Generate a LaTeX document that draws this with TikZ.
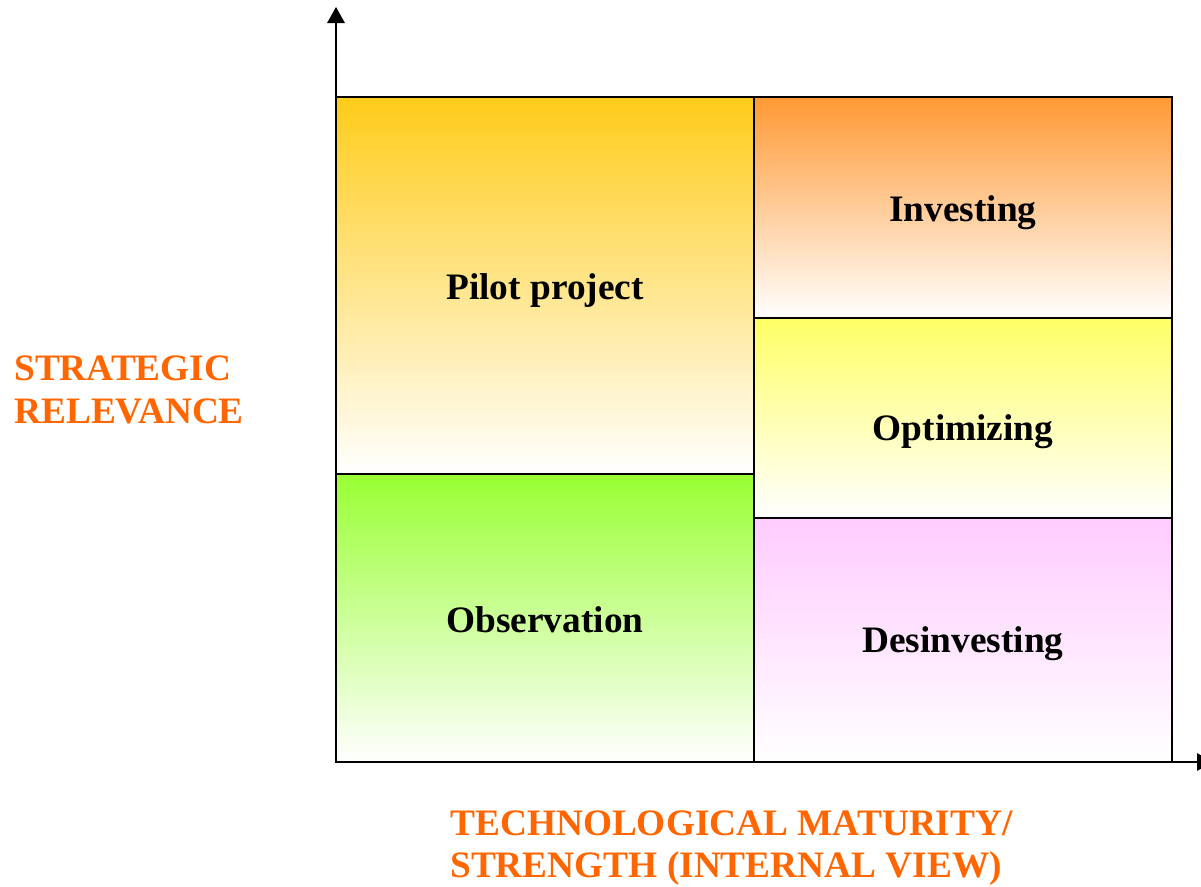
\documentclass[tikz,border=0pt]{standalone}
\usepackage{fontspec}
\setmainfont{Liberation Serif}
\usetikzlibrary{arrows.meta,positioning}
\definecolor{axislabel}{RGB}{255,102,0}
\definecolor{pilottop}{RGB}{255,204,26}
\definecolor{investtop}{RGB}{255,153,51}
\definecolor{optimtop}{RGB}{255,255,102}
\definecolor{observtop}{RGB}{153,255,51}
\definecolor{desinvtop}{RGB}{255,204,255}

\begin{document}
\begin{tikzpicture}[x=0.75pt, y=-0.75pt, >={Triangle[length=12pt,width=13pt]},
  field/.style={draw, line width=1.5pt, bottom color=white, inner sep=0pt, outer sep=0pt,
    minimum width=313.5pt, text height=21pt, text depth=0pt,
    font=\fontsize{28}{32}\selectfont\bfseries},
  axistext/.style={align=left, text=axislabel, inner sep=0pt,
    font=\fontsize{28}{32}\selectfont\bfseries}]
\path[use as bounding box, fill=white] (0,0) rectangle (1201,886);

% left column
\node[field, top color=pilottop, minimum height=282.75pt, anchor=north west] (pilot) at (336,97) {Pilot project};
\node[field, top color=observtop, minimum height=216pt, below=0pt of pilot] (observation) {Observation};

% right column
\node[field, top color=investtop, minimum height=165.75pt, anchor=north west] (investing) at (pilot.north east) {Investing};
\node[field, top color=optimtop, minimum height=150pt, text height=34pt, below=0pt of investing] (optimizing) {Optimizing};
\node[field, top color=desinvtop, minimum height=183pt, text height=19pt, below=0pt of optimizing] (desinvesting) {Desinvesting};

% axes
\coordinate (origin) at (observation.south west);
\coordinate (ytip) at (336,7);
\coordinate (xtip) at (1213,762);
\draw[->, line width=1.5pt] (origin) -- (ytip);
\draw[->, line width=1.5pt] (origin) -- (xtip);

\node[axistext, anchor=west] (relevance) at (14,390) {STRATEGIC\\RELEVANCE};
\node[axistext, anchor=west] (maturity) at (450,848) {TECHNOLOGICAL MATURITY/\\STRENGTH (INTERNAL VIEW)};
\end{tikzpicture}
\end{document}
